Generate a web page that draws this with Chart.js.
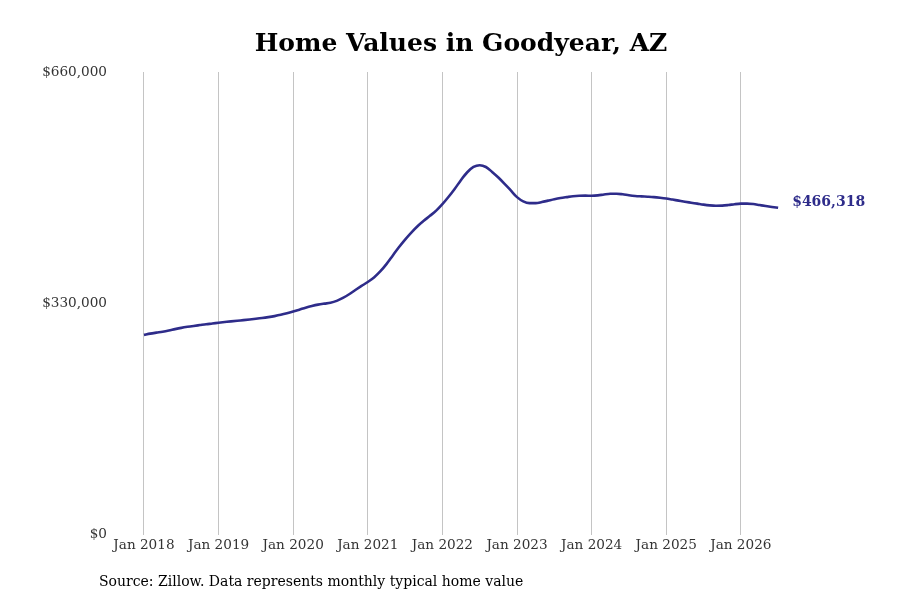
<!DOCTYPE html>
<html>
<head>
<meta charset="utf-8">
<script src="https://cdn.jsdelivr.net/npm/chart.js@4"></script>
<style>
  body { margin: 0; background: #fff; }
</style>
</head>
<body>
<canvas id="home-values" width="900" height="600"></canvas>
<script>
// monthly typical home value, Jan 2018 .. Jul 2026 (month index 0 = Jan 2018)
const yearLabels = ['Jan 2018', 'Jan 2019', 'Jan 2020', 'Jan 2021', 'Jan 2022', 'Jan 2023', 'Jan 2024', 'Jan 2025', 'Jan 2026'];
const yTicks = [0, 330000, 660000];
const values = [
    285000, 286800, 288200, 289500, 291200, 293200, 295000, 296500, 297800, 299000, 300200, 301200,
    302300, 303300, 304300, 305200, 306000, 306900, 307900, 309000, 310300, 311800, 313600, 315800,
    318300, 321000, 323800, 326200, 328200, 329600, 330800, 333500, 337800, 343000, 349000, 354800,
    360500, 367000, 375500, 386000, 398000, 410000, 421000, 431000, 440000, 447800, 454800, 462300,
    471500, 482000, 493500, 506000, 517000, 524500, 527000, 524500, 517500, 509500, 500500, 491000,
    481500, 475500, 473000, 473000, 474500, 476500, 478500, 480200, 481500, 482700, 483400, 483600,
    483500, 484000, 485300, 486300, 486400, 485500, 484200, 483200, 482600, 482100, 481500, 480600,
    479500, 478000, 476500, 475000, 473600, 472200, 470800, 469800, 469300, 469400, 470200, 471400,
    472200, 472300, 471600, 470200, 468800, 467500, 466318
];

const lineColor = '#2e2c8a';
const serif = '"DejaVu Serif", serif';
const money = v => '$' + v.toLocaleString('en-US');

// label for the last point + source note under the chart
const extras = {
    id: 'extras',
    afterDraw(chart) {
        const c = chart.ctx;
        const xs = chart.scales.x, ys = chart.scales.y;
        const last = values.length - 1;
        c.save();
        c.font = 'bold 14px ' + serif;
        c.fillStyle = lineColor;
        c.textBaseline = 'middle';
        c.fillText(money(values[last]), xs.getPixelForValue(last) + 14, ys.getPixelForValue(values[last]) - 5);
        c.font = '14px ' + serif;
        c.fillStyle = '#000';
        c.fillText('Source: Zillow. Data represents monthly typical home value', 99, 582);
        c.restore();
    }
};

new Chart(document.getElementById('home-values'), {
    type: 'line',
    data: {
        datasets: [{
            data: values.map((v, i) => ({ x: i, y: v })),
            borderColor: lineColor,
            borderWidth: 2.6,
            pointRadius: 0,
            cubicInterpolationMode: 'monotone',
            fill: false
        }]
    },
    options: {
        responsive: false,
        animation: false,
        devicePixelRatio: 1,
        layout: { padding: { left: 22, right: 0, bottom: 43 } },
        scales: {
            x: {
                type: 'linear',
                min: -5.14,
                max: 121.6,
                afterBuildTicks: s => { s.ticks = yearLabels.map((_, i) => ({ value: i * 12 })); },
                grid: { color: '#c4c4c4', drawTicks: false },
                border: { display: false },
                ticks: {
                    padding: 3,
                    maxRotation: 0,
                    autoSkip: false,
                    color: '#333',
                    font: { family: serif, size: 13.6 },
                    callback: v => yearLabels[v / 12]
                }
            },
            y: {
                min: 0,
                max: 660000,
                afterBuildTicks: s => { s.ticks = yTicks.map(v => ({ value: v })); },
                afterFit: s => { s.width = 90; },
                grid: { display: false, drawTicks: false },
                border: { display: false },
                ticks: {
                    padding: 5,
                    color: '#333',
                    font: { family: serif, size: 13.6 },
                    callback: v => money(v)
                }
            }
        },
        plugins: {
            legend: { display: false },
            tooltip: { enabled: false },
            title: {
                display: true,
                text: 'Home Values in Goodyear, AZ',
                color: '#000',
                font: { family: serif, size: 25, weight: 'bold' },
                padding: { top: 29, bottom: 13 }
            }
        }
    },
    plugins: [extras]
});
</script>
</body>
</html>
